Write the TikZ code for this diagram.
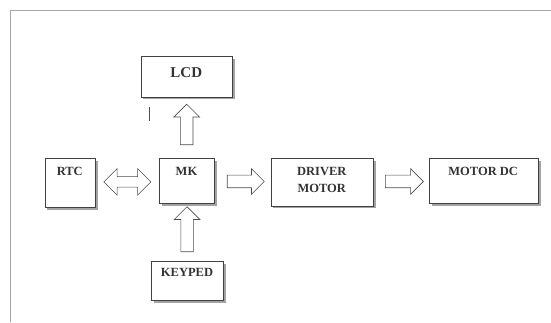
\documentclass[tikz,border=0pt]{standalone}
\usepackage{fontspec}
\setmainfont{Liberation Serif}
\usetikzlibrary{shapes.arrows,shadows,calc}

\tikzset{
  blk/.style={draw=black!75, line width=0.7pt, fill=white, anchor=north west,
    drop shadow={shadow xshift=2.5pt, shadow yshift=-2.5pt, fill=black!45, opacity=0.8}},
  txt/.style={font=\fontsize{12.5}{17}\selectfont\bfseries, text=black!80, align=center, inner sep=0pt},
  sarr/.style={single arrow, draw=black!70, line width=0.6pt, fill=white,
    inner sep=6pt, single arrow head extend=6.5pt, single arrow head indent=0pt},
  darr/.style={double arrow, draw=black!70, line width=0.6pt, fill=white,
    inner sep=5pt, double arrow head extend=8pt}
}

\begin{document}
\begin{tikzpicture}[x=1pt,y=-1pt]
    \useasboundingbox (0,0) rectangle (551,322);
    % frame
    \draw[black!35, line width=1.5pt] (551,10.5) -- (10.5,10.5) -- (10.5,322);

    % blocks
    \node[blk, minimum width=91.5pt, minimum height=40.5pt] (lcd) at (140.5,56) {};
    \node[blk, minimum width=50.4pt, minimum height=49pt]   (rtc) at (44.6,158) {};
    \node[blk, minimum width=55pt,   minimum height=45pt]   (mk)  at (159,158) {};
    \node[blk, minimum width=102.5pt,minimum height=47.5pt] (drv) at (270.5,158) {};
    \node[blk, minimum width=109pt,  minimum height=45pt]   (mot) at (428.7,158) {};
    \node[blk, minimum width=72pt,   minimum height=39pt]   (key) at (151,261) {};

    % labels
    \node[txt, font=\fontsize{15}{17}\selectfont\bfseries] (lcd-t) at (186.25,72.7) {LCD};
    \node[txt] (rtc-t) at (69.8,171.5) {RTC};
    \node[txt] (mk-t)  at (186.5,171.5) {MK};
    \node[txt] (drv-t) at (321.75,179.5) {DRIVER\\MOTOR};
    \node[txt] (mot-t) at (483.2,171.5) {MOTOR DC};
    \node[txt] (key-t) at (187,272) {KEYPED};

    % block arrows
    \node[darr, minimum height=47pt] (rtc-mk) at ($(rtc.east)!.5!(mk.west)$) {};
    \node[sarr, minimum height=40.6pt, shape border rotate=90] (mk-lcd) at ($(mk.north)!.5!(lcd.south)$) {};
    \node[sarr, minimum height=37pt] (mk-drv) at ($(mk.east)!.5!(drv.west)$) {};
    \node[sarr, minimum height=38pt] (drv-mot) at ($(drv.east)!.5!(mot.west)$) {};
    \node[sarr, minimum height=45pt, shape border rotate=90] (key-mk) at ($(key.north)!.5!(mk.south)$) {};

    % stray tick
    \draw[black!70, line width=0.8pt] (149,107) -- (149,121);
\end{tikzpicture}
\end{document}
